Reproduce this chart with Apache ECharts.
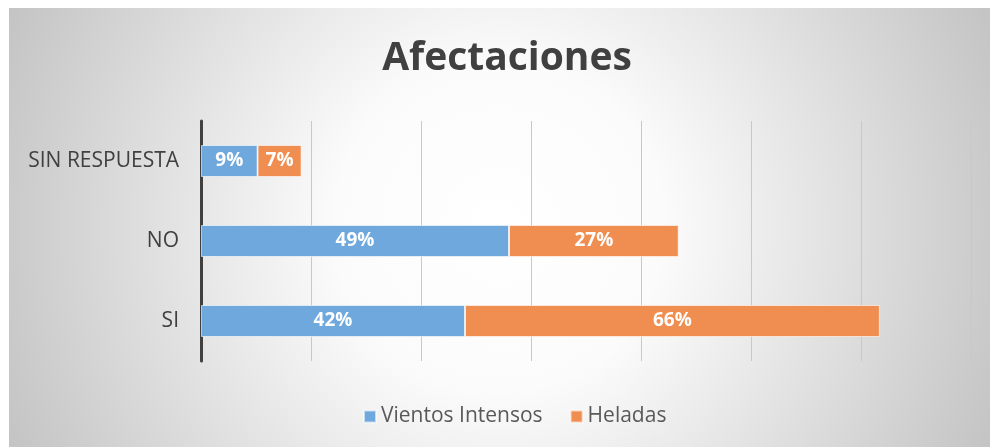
<!DOCTYPE html>
<html>
<head>
<meta charset="utf-8">
<script src="https://cdn.jsdelivr.net/npm/echarts@6/dist/echarts.min.js"></script>
<style>
  html, body { margin: 0; padding: 0; background: #ffffff; }
  #chart { position: absolute; left: 9px; top: 8px; width: 981px; height: 439px; }
</style>
</head>
<body>
<div id="chart"></div>
<script>
// datos
const categories = ['SI', 'NO', 'SIN RESPUESTA']
const vientos = [42, 49, 9]
const heladas = [66, 27, 7]
const seriesNames = ['Vientos Intensos', 'Heladas']

const font = 'Open Sans'
const chart = echarts.init(document.getElementById('chart'))

const barLabel = {
  show: true,
  position: 'inside',
  color: '#ffffff',
  fontFamily: font,
  fontWeight: 'bold',
  fontSize: 19,
  formatter: p => p.value + '%'
}

const option = {
  backgroundColor: {
    type: 'radial',
    x: 0.5, y: 0.5, r: 1.25,
    colorStops: [
      { offset: 0, color: '#ffffff' },
      { offset: 0.3, color: '#fbfbfb' },
      { offset: 1, color: '#c2c2c2' }
    ]
  },
  animation: false,
  title: {
    text: 'Afectaciones',
    left: 493,
    textAlign: 'center',
    top: 26,
    textStyle: { fontFamily: font, fontWeight: 'bold', fontSize: 39, color: '#404040' }
  },
  legend: {
    data: seriesNames,
    bottom: 15,
    left: 349,
    itemWidth: 12,
    itemHeight: 12,
    itemGap: 27,
    icon: 'rect',
    textStyle: { fontFamily: font, fontSize: 21, color: '#595959' }
  },
  grid: { left: 192, top: 113, width: 770, height: 240, containLabel: false },
  xAxis: {
    type: 'value',
    min: 0,
    max: 122.5,
    interval: 17.5,
    axisLabel: { show: false },
    axisLine: { show: false },
    axisTick: { show: false },
    splitLine: { show: true, lineStyle: { color: '#c8c8c8', width: 1 } }
  },
  yAxis: {
    type: 'category',
    data: categories,
    axisTick: { show: false },
    axisLine: { show: true, lineStyle: { color: '#404040', width: 3 } },
    axisLabel: { fontFamily: font, fontSize: 21, color: '#404040', margin: 22 }
  },
  series: [
    {
      name: seriesNames[0],
      type: 'bar',
      stack: 'total',
      data: vientos,
      barWidth: 32,
      itemStyle: { color: '#6fa8dc', borderColor: 'rgba(255,255,255,0.6)', borderWidth: 1 },
      label: barLabel
    },
    {
      name: seriesNames[1],
      type: 'bar',
      stack: 'total',
      data: heladas,
      barWidth: 32,
      itemStyle: { color: '#ef8e50', borderColor: 'rgba(255,255,255,0.6)', borderWidth: 1 },
      label: barLabel
    }
  ]
}

chart.setOption(option)
</script>
</body>
</html>
